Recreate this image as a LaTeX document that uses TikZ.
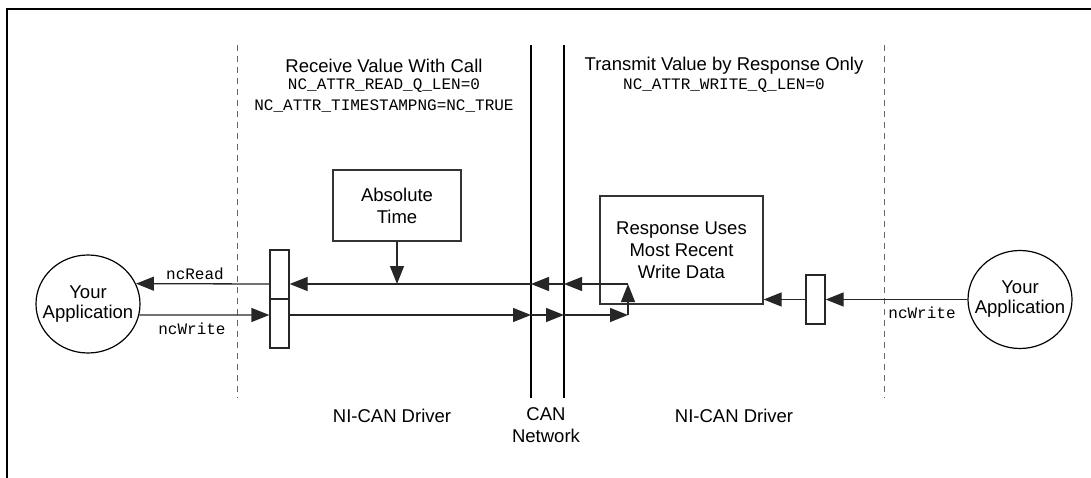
\documentclass[tikz,border=0pt]{standalone}
\usepackage{fontspec}
\setmainfont{Liberation Sans}
\setmonofont{Liberation Mono}
\usetikzlibrary{arrows.meta,shapes.geometric}

\begin{document}
\begin{tikzpicture}[x=1pt,y=-1pt,
  conn/.style={draw=black!85, line width=1.3pt},
  arr/.style={conn, -{Triangle[length=18pt,width=14pt]}},
  procbox/.style={draw=black!80, line width=1.3pt, align=center, inner sep=0pt,
    font=\fontsize{18.5}{22}\selectfont},
  qbox/.style={draw=black!85, line width=1.3pt, minimum width=19pt,
    minimum height=49pt, inner sep=0pt},
  app/.style={ellipse, draw=black, line width=1.2pt, minimum width=104pt,
    minimum height=98pt, inner sep=0pt},
  lbl/.style={font=\fontsize{18.5}{22}\selectfont, align=center, inner sep=0pt},
  applbl/.style={font=\fontsize{18.5}{20}\selectfont, align=center, inner sep=0pt},
  code/.style={font=\ttfamily\fontsize{16}{20}\selectfont, inner sep=0pt},
  sep/.style={draw=black!60, line width=0.9pt, dash pattern=on 6pt off 5pt},
  bus/.style={draw=black, line width=2.5pt},
  frame/.style={draw=black, line width=2.5pt},
]
\useasboundingbox (0,0) rectangle (1091,478);

% outer frame (top and left edges)
\draw[frame] (7,478) -- (7,9) -- (1091,9);

% region separators and the CAN bus
\coordinate (d1t) at (237,45);  \coordinate (d1b) at (237,398);
\coordinate (d2t) at (884,45);  \coordinate (d2b) at (884,398);
\coordinate (c1t) at (531,45);  \coordinate (c1b) at (531,398);
\coordinate (c2t) at (564,45);  \coordinate (c2b) at (564,398);
\draw[sep] (d1t) -- (d1b);
\draw[sep] (d2t) -- (d2b);
\draw[bus] (c1t) -- (c1b);
\draw[bus] (c2t) -- (c2b);

% headings
\node[lbl]  (rxhead) at (384,66) {Receive Value With Call};
\node[code] (rxq)    at (384,86) {NC\_ATTR\_READ\_Q\_LEN=0};
\node[code] (rxts)   at (384,106) {NC\_ATTR\_TIMESTAMPNG=NC\_TRUE};
\node[lbl]  (txhead) at (724,66) {Transmit Value by Response Only};
\node[code] (txq)    at (724,86) {NC\_ATTR\_WRITE\_Q\_LEN=0};

% applications
\node[app, label={[applbl]center:Your\\Application}] (lc) at (88,304) {};
\node[app, label={[applbl]center:Your\\Application}] (rc) at (1020,299.5) {};

% driver blocks
\node[procbox, minimum width=128pt, minimum height=71pt] (abs) at (397,205.5)
  {Absolute\\Time};
\node[procbox, minimum width=163pt, minimum height=108pt] (resp) at (681.5,250)
  {Response Uses\\Most Recent\\Write Data};

% queue buffers
\node[qbox] (lb1) at (279.5,274.5) {};
\node[qbox] (lb2) at (279.5,323.5) {};
\node[qbox] (rb)  at (815.5,299.5) {};

% signal rows
\coordinate (ry) at (0,284);
\coordinate (wy) at (0,315);
\coordinate (jw) at (628,315);
\coordinate (jr) at (628,284);

% read path
\draw[arr] (jr) -- (c2t |- ry);
\draw[arr] (c2t |- ry) -- (c1t |- ry);
\draw[arr] (c1t |- ry) -- (lb1.east |- ry);
\draw[arr] (lb1.west |- ry) -- (lc.23);
\draw[arr] (abs.south) -- (abs.south |- ry);

% write path
\draw[arr] (lc.-12) -- (lb2.west |- wy);
\draw[arr] (lb2.east |- wy) -- (c1t |- wy);
\draw[arr] (c1t |- wy) -- (c2t |- wy);
\draw[arr] (c2t |- wy) -- (jw);
\draw[arr] (jw) -- (jr);

% transmit side
\draw[arr] (rc.west) -- (rb.east);
\draw[arr] (rb.west) -- (resp.east |- rb.west);

% call labels
\node[code] (ncr)  at (195,274) {ncRead};
\node[code] (ncw)  at (192,329) {ncWrite};
\node[code] (ncw2) at (922,313) {ncWrite};

% layer captions
\node[lbl] (drvl) at (392,416) {NI-CAN Driver};
\node[lbl, anchor=north] (canl) at (546,407) {CAN\\Network};
\node[lbl] (drvr) at (734,416) {NI-CAN Driver};
\end{tikzpicture}
\end{document}
